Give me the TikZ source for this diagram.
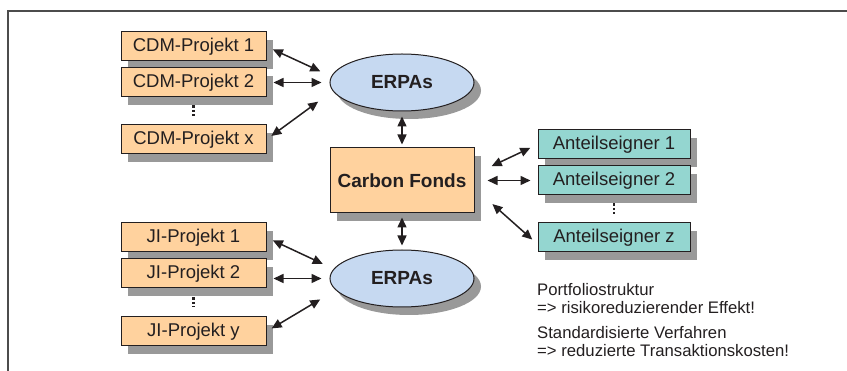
\documentclass[tikz,border=0pt]{standalone}
\usepackage{fontspec}
\setmainfont{Liberation Sans}
\usetikzlibrary{arrows.meta}
\usetikzlibrary{shapes.geometric}
\usetikzlibrary{shadows}
\definecolor{boxorange}{RGB}{255,210,158}
\definecolor{boxblue}{RGB}{198,217,241}
\definecolor{boxteal}{RGB}{148,214,208}
\definecolor{shadowgray}{RGB}{153,153,153}
\definecolor{inkdark}{RGB}{35,31,32}

\begin{document}
\begin{tikzpicture}[x=1pt,y=-1pt,
		shd/.style={drop shadow={shadow xshift=7pt,shadow yshift=-8pt,fill=shadowgray,opacity=1}},
		proj/.style={rectangle,draw=inkdark,line width=1pt,fill=boxorange,shd,minimum width=145pt,minimum height=29pt,inner sep=0pt,text=inkdark,font=\fontsize{18.5}{20}\selectfont},
		anteil/.style={proj,fill=boxteal,minimum width=152pt},
		erpa/.style={ellipse,draw=inkdark,line width=1pt,fill=boxblue,shd,minimum width=144pt,minimum height=57pt,inner sep=0pt,text=inkdark,font=\fontsize{19}{20}\selectfont\bfseries},
		fonds/.style={proj,minimum width=144pt,minimum height=65pt,font=\fontsize{19}{20}\selectfont\bfseries},
		link/.style={{Triangle[length=10pt,width=9pt]}-{Triangle[length=10pt,width=9pt]},line width=1.5pt,draw=inkdark},
		vdots/.style={draw=inkdark,line width=2.5pt,dash pattern=on 2.5pt off 2pt}]
	\useasboundingbox (0,0) rectangle (847,371);
	%% frame
	\draw[line width=2pt,draw=black!70] (8,371) -- (8,11) -- (847,11);
	%% define nodes
	\node (cdm1) at (193.5,46.5) [proj] {CDM-Projekt 1};
	\node (cdm2) at (193.5,82.5) [proj] {CDM-Projekt 2};
	\node (cdmx) at (193.5,139.5) [proj] {CDM-Projekt x};
	\node (erpa1) at (402,82.5) [erpa] {ERPAs};
	\node (carbon) at (402,180.5) [fonds] {Carbon Fonds};
	\node (ji1) at (193.5,237.5) [proj] {JI-Projekt 1};
	\node (ji2) at (193.5,273.5) [proj] {JI-Projekt 2};
	\node (jiy) at (193.5,331.5) [proj] {JI-Projekt y};
	\node (erpa2) at (402,278.5) [erpa] {ERPAs};
	\node (a1) at (614,144.5) [anteil] {Anteilseigner 1};
	\node (a2) at (614,180.5) [anteil] {Anteilseigner 2};
	\node (az) at (614,237.5) [anteil] {Anteilseigner z};
	\node (note) at (537,283) [anchor=north west,align=left,inner sep=0pt,text=inkdark,
		font=\fontsize{16.7}{18}\selectfont] {Portfoliostruktur\\=> risikoreduzierender Effekt!\\[7pt]Standardisierte Verfahren\\=> reduzierte Transaktionskosten!};
	%% define dots
	\draw[vdots,shorten <=8pt,shorten >=8pt] (cdm2.south) -- (cdmx.north);
	\draw[vdots,shorten <=9pt,shorten >=9pt] (ji2.south) -- (jiy.north);
	\draw[vdots,shorten <=8pt,shorten >=8pt] (a2.south) -- (az.north);
	%% define arrows
	\draw[link,shorten <=7pt,shorten >=12pt] (cdm1.east) -- (erpa1.175);
	\draw[link,shorten <=7pt,shorten >=8pt] (cdm2.east) -- (erpa1.west);
	\draw[link,shorten <=6pt,shorten >=18pt] (cdmx.east) -- (erpa1.187);
	\draw[link,shorten <=5pt,shorten >=3pt] (erpa1.south) -- (carbon.north);
	\draw[link,shorten <=4pt,shorten >=4pt] (carbon.south) -- (erpa2.north);
	\draw[link,shorten <=7pt,shorten >=12pt] (ji1.east) -- (erpa2.172);
	\draw[link,shorten <=7pt,shorten >=8pt] (ji2.east |- erpa2.west) -- (erpa2.west);
	\draw[link,shorten <=6pt,shorten >=18pt] (jiy.east) -- (erpa2.190);
	\draw[link,shorten <=19pt,shorten >=8pt] (carbon.5) -- (a1.west);
	\draw[link,shorten <=13pt,shorten >=7pt] (carbon.east) -- (a2.west);
	\draw[link,shorten <=24pt,shorten >=7pt] (carbon.-6) -- (az.185);
\end{tikzpicture}
\end{document}
